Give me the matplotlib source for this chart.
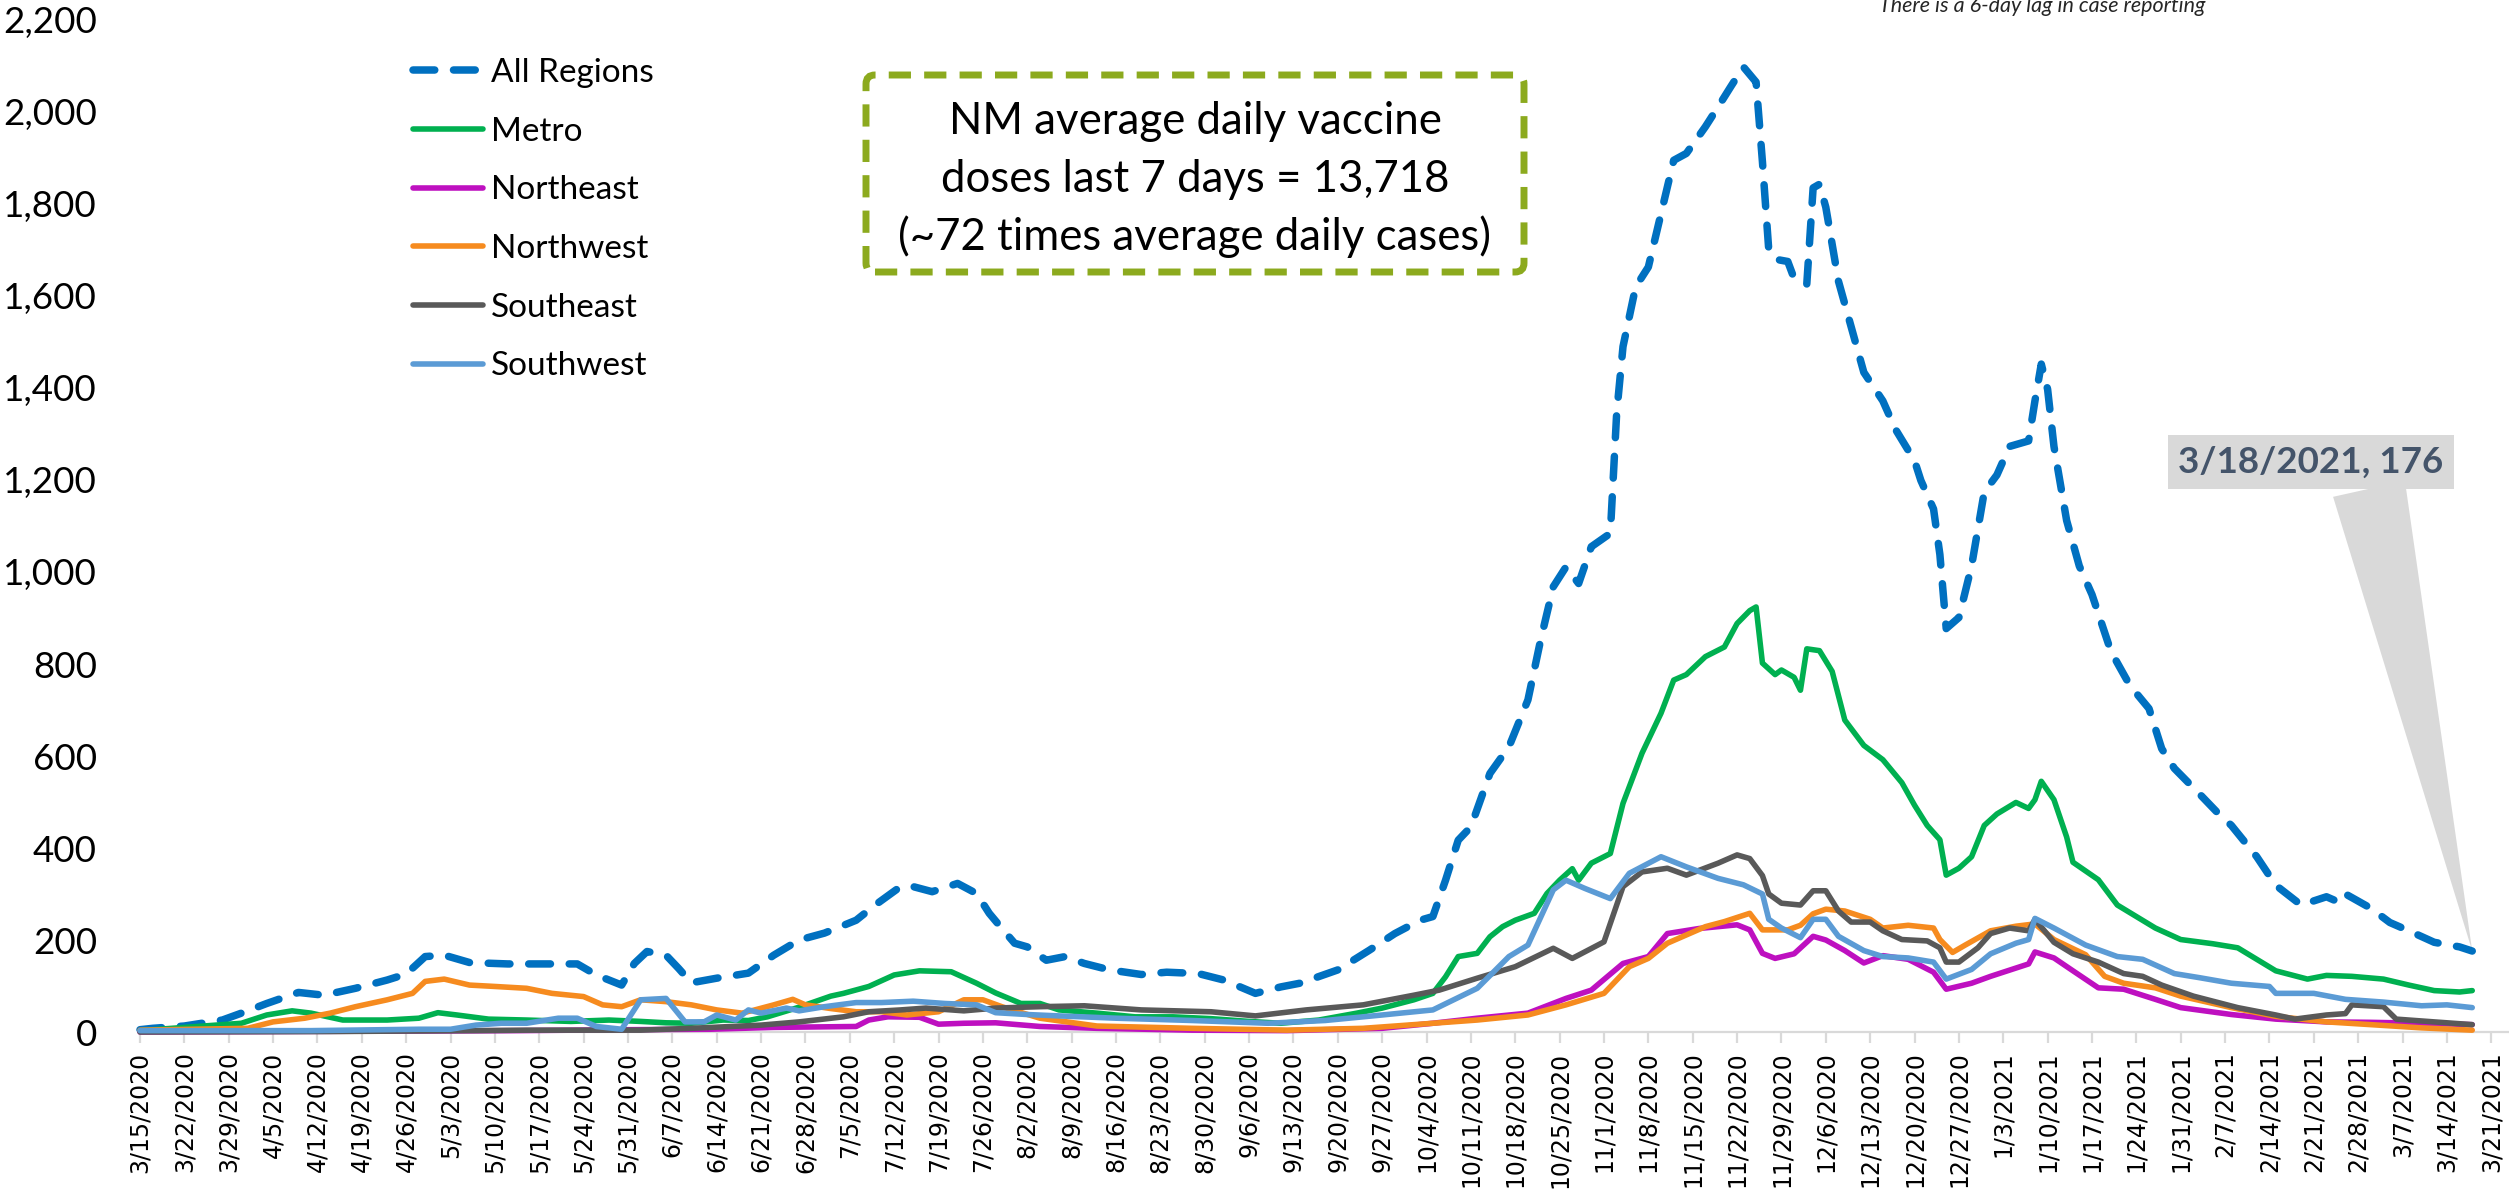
import matplotlib
matplotlib.use("Agg")
import matplotlib.pyplot as plt
import pandas as pd
from matplotlib.patches import FancyBboxPatch
from matplotlib.transforms import IdentityTransform
from matplotlib.ticker import FuncFormatter

# ---------------- data (7-day average daily cases, days since 3/15/2020) ----------------
START = "2020-03-15"

all_regions_days = [0,2,7,13,16,20,25,29,34,39,42,45,48,52,58,64,69,72,76,78,80,83,85,87,91,96,100,104,108,113,
                    116,120,122,125,129,132,134,136,138,140,143,146,149,153,158,162,167,171,176,180,183,189,194,198,202,204,206,208,210,213,
                    216,219,221,223,225,227,229,232,233,234,236,238,240,242,244,247,249,251,253,255,256,257,258,260,261,263,264,265,266,268,
                    271,272,275,277,280,281,283,284,285,287,289,291,293,295,298,299,300,301,302,304,306,308,311,314,317,319,321,325,328,330,
                    334,337,341,345,347,348,352,355,358,362,366,368]
all_regions_cases = [5,8,13,26,41,62,86,80,95,113,126,164,167,151,148,148,148,124,102,149,175,167,138,107,117,128,167,200,215,243,
                     276,316,316,305,323,301,258,225,193,185,156,164,149,135,125,130,127,113,84,98,106,135,178,214,243,251,330,417,446,562,
                     620,722,852,968,1011,975,1055,1084,1345,1490,1620,1663,1779,1895,1910,1968,2011,2055,2098,2065,1892,1700,1680,1675,1638,1626,1835,1843,1793,1632,
                     1483,1434,1372,1310,1242,1199,1137,1038,877,901,1013,1174,1211,1273,1285,1372,1452,1397,1273,1112,1013,951,827,753,703,616,573,517,474,449,
                     381,319,276,294,282,300,269,238,220,195,185,176]

metro_days = [0,2,10,16,20,24,27,32,39,44,47,50,55,61,68,74,79,83,87,92,96,99,104,109,111,115,119,123,128,132,
              135,139,142,145,151,157,163,169,175,180,186,192,196,201,204,206,208,211,213,215,217,220,222,224,226,227,229,232,234,237,
              240,242,244,247,250,252,254,255,256,258,259,261,262,263,265,267,269,272,275,278,280,282,284,285,287,289,291,293,296,298,
              299,300,302,304,305,309,312,315,318,322,327,331,334,337,342,345,349,354,358,362,366,368]
metro_cases = [3,5,13,19,37,46,41,26,26,30,42,37,28,26,23,26,23,20,19,26,25,33,54,78,84,99,124,133,131,106,
               85,62,62,48,41,33,33,29,23,19,26,41,52,70,84,120,164,171,207,229,243,258,301,330,355,330,367,388,497,606,
               693,765,777,816,837,888,916,924,802,777,787,771,743,833,829,784,678,623,592,542,493,449,418,341,356,381,449,474,499,486,
               505,545,505,424,369,331,276,251,226,201,192,183,158,133,115,123,121,115,102,90,87,90]

northeast_days = [0,20,40,60,77,90,100,113,115,118,123,126,130,135,142,151,166,181,196,204,
                  211,219,225,229,234,238,241,246,252,254,256,258,261,264,266,269,272,275,279,283,
                  285,289,292,296,298,299,302,305,309,313,318,322,330,337,345,352,360,368]
northeast_cases = [0,1,2,3,5,6,10,12,26,33,32,17,19,20,12,8,4,3,8,19,
                   30,41,73,91,149,164,214,225,233,222,171,160,170,208,200,177,150,166,158,130,
                   93,106,121,139,148,174,161,133,96,93,71,53,38,28,22,21,19,16]

northwest_days = [0,17,21,26,30,34,39,43,45,48,52,56,61,65,70,73,76,79,83,87,
                  91,95,97,100,103,105,109,113,117,121,126,130,133,136,142,151,166,181,193,202,
                  211,219,225,231,235,238,241,247,250,254,256,260,262,264,266,269,273,275,279,283,
                  284,286,288,292,296,299,302,307,310,313,318,322,330,337,345,352,360,368]
northwest_cases = [4,8,22,30,41,55,70,84,110,115,102,99,95,84,77,59,55,70,66,59,
                   48,41,48,59,71,59,51,44,44,37,44,70,70,55,30,13,8,4,8,17,
                   26,37,59,84,142,160,193,229,240,258,222,222,232,257,267,263,245,226,232,226,
                   201,173,189,220,230,235,201,168,121,106,96,78,53,34,22,16,9,4]

southeast_days = [0,30,53,61,79,87,98,104,111,115,120,124,130,135,142,149,158,169,176,184,
                  193,201,205,211,217,223,226,231,234,237,241,244,249,252,254,256,257,259,262,264,
                  266,268,270,273,275,278,282,284,285,287,290,292,295,298,299,302,305,309,313,316,
                  319,324,331,337,340,345,348,349,354,356,360,368]
southeast_cases = [0,1,3,4,4,8,15,22,33,44,48,52,46,52,55,57,48,44,35,48,
                   59,80,91,117,142,182,160,196,316,348,356,341,367,385,377,340,300,280,276,307,
                   307,263,239,239,220,201,198,183,152,152,183,214,226,220,245,195,170,152,127,121,
                   102,78,53,37,28,37,40,59,55,28,24,16]

southwest_days = [0,27,44,49,53,57,61,66,69,72,76,79,83,86,89,91,94,96,98,102,
                  104,108,113,117,122,127,132,135,140,145,154,166,178,187,196,204,211,216,219,223,
                  225,228,232,235,240,244,249,253,256,257,259,262,264,266,268,272,275,279,283,285,
                  289,292,296,298,299,302,307,312,316,321,325,330,336,337,343,348,354,360,364,368]
southwest_cases = [3,3,6,6,15,19,19,30,30,12,6,70,73,22,22,37,26,48,41,52,
                   46,55,64,64,67,62,59,42,38,35,30,25,19,25,37,48,95,164,189,309,
                   330,312,290,345,381,359,334,320,300,245,226,205,245,245,208,177,164,161,152,115,
                   136,170,193,201,247,226,189,164,158,127,118,106,99,84,84,71,65,57,59,53]

series_names = ["All Regions", "Metro", "Northeast", "Northwest", "Southeast", "Southwest"]

tick_labels = ["3/15/2020","3/22/2020","3/29/2020","4/5/2020","4/12/2020","4/19/2020","4/26/2020",
               "5/3/2020","5/10/2020","5/17/2020","5/24/2020","5/31/2020","6/7/2020","6/14/2020",
               "6/21/2020","6/28/2020","7/5/2020","7/12/2020","7/19/2020","7/26/2020","8/2/2020",
               "8/9/2020","8/16/2020","8/23/2020","8/30/2020","9/6/2020","9/13/2020","9/20/2020",
               "9/27/2020","10/4/2020","10/11/2020","10/18/2020","10/25/2020","11/1/2020","11/8/2020",
               "11/15/2020","11/22/2020","11/29/2020","12/6/2020","12/13/2020","12/20/2020","12/27/2020",
               "1/3/2021","1/10/2021","1/17/2021","1/24/2021","1/31/2021","2/7/2021","2/14/2021",
               "2/21/2021","2/28/2021","3/7/2021","3/14/2021","3/21/2021"]

box_lines = ["NM average daily vaccine", "doses last 7 days = 13,718", "(~72 times average daily cases)"]
note_text = "There is a 6-day lag in case reporting"

# ---------------- figure ----------------
W, H = 2509, 1189
fig = plt.figure(figsize=(W / 100, H / 100), dpi=100)
ax = fig.add_axes([140 / W, 157 / H, (W - 140) / W, 1012 / H])

start = pd.Timestamp(START)
def to_dates(days):
    return start + pd.to_timedelta(days, unit="D")

series = [
    (all_regions_days, all_regions_cases, "#0070C0"),
    (metro_days, metro_cases, "#00B050"),
    (northeast_days, northeast_cases, "#BE10C0"),
    (northwest_days, northwest_cases, "#F68B1F"),
    (southeast_days, southeast_cases, "#595959"),
    (southwest_days, southwest_cases, "#5B9BD5"),
]

handles = []
for i, ((d, v, c), name) in enumerate(zip(series, series_names)):
    if i == 0:
        ln, = ax.plot(to_dates(d), v, color=c, lw=5.4, ls=(0, (2.9, 2.5)),
                      dash_capstyle="round", dash_joinstyle="round", clip_on=False, zorder=2 + i, label=name)
    else:
        ln, = ax.plot(to_dates(d), v, color=c, lw=4.0, solid_capstyle="round",
                      solid_joinstyle="round", clip_on=False, zorder=2 + i, label=name)
    handles.append(ln)

ax.set_ylim(0, 2200)
ax.set_xlim(start, start + pd.Timedelta(days=373.8))
ax.set_yticks(range(0, 2201, 200))
ax.yaxis.set_major_formatter(FuncFormatter(lambda y, p: f"{int(y):,}"))

tick_dates = pd.to_datetime(tick_labels, format="%m/%d/%Y")
ax.set_xticks(tick_dates)
ax.set_xticklabels(tick_labels, rotation=90, fontsize=17, family="DejaVu Sans", va="top", ha="center")

for s in ["top", "right", "left"]:
    ax.spines[s].set_visible(False)
ax.spines["bottom"].set_color("#D9D9D9")
ax.spines["bottom"].set_linewidth(1.6)
ax.tick_params(axis="x", length=8, width=1.6, color="#D9D9D9", pad=6)
ax.tick_params(axis="y", length=0, pad=31, labelsize=26.5)
for t in ax.get_yticklabels():
    t.set_family("Lato")

leg = ax.legend(handles, series_names, loc="upper left", bbox_to_anchor=(413 / W, 1 - 58 / H),
                bbox_transform=fig.transFigure, frameon=False, prop={"family": "Lato", "size": 24},
                handlelength=2.1, handletextpad=0.25, labelspacing=0.86, borderpad=0, borderaxespad=0)

# dashed green info box
box = FancyBboxPatch((866, H - 272), 658, 197, boxstyle="round,pad=0,rounding_size=9",
                     transform=IdentityTransform(), fc="white", ec="#8CAA1E", lw=5,
                     ls=(0, (3.2, 1.9)), zorder=5)
fig.add_artist(box)
for txt, yy in zip(box_lines, [121, 179, 237]):
    fig.text(1195 / W, 1 - yy / H, txt, ha="center", va="center", fontsize=31.5,
             family="Lato", color="black", zorder=6)

# top note
fig.text(2042 / W, 1 - 12 / H, note_text, ha="center", va="baseline", fontsize=15.5,
         style="italic", family="Lato", color="#262626")

# callout for the last point
last_date = to_dates([all_regions_days[-1]])[0]
last_val = all_regions_cases[-1]
ax.annotate(f"{last_date.month}/{last_date.day}/{last_date.year}, {last_val}",
            xy=(last_date, last_val), xycoords="data",
            xytext=(2311, H - 462), textcoords="figure pixels",
            ha="center", va="center", fontsize=26.5, fontweight="bold", family="Lato",
            color="#44546A",
            bbox=dict(boxstyle="square,pad=0.28", fc="#D9D9D9", ec="none"),
            arrowprops=dict(arrowstyle="wedge,tail_width=2.0,shrink_factor=0.5",
                            fc="#D9D9D9", ec="none", relpos=(0.71, 0.0),
                            shrinkA=0, shrinkB=0),
            zorder=1, annotation_clip=False)

fig.savefig("out.png", dpi=100, facecolor="white")
